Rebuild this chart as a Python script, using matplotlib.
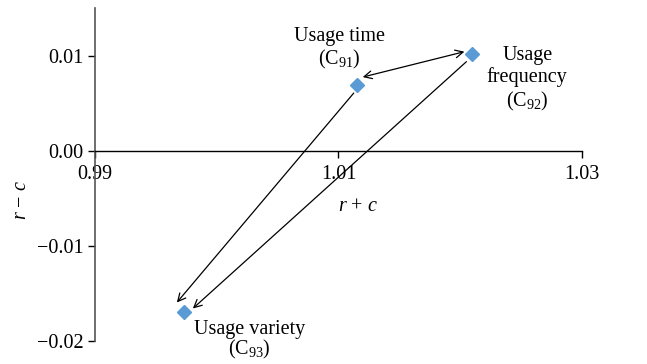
import matplotlib.pyplot as plt
import matplotlib.transforms as mtransforms
from matplotlib.ticker import FixedLocator, FuncFormatter

plt.rcParams['font.family'] = 'Liberation Serif'
plt.rcParams['mathtext.fontset'] = 'custom'
plt.rcParams['mathtext.rm'] = 'Liberation Serif'
plt.rcParams['mathtext.it'] = 'Liberation Serif:italic'

# factor positions: (r + c, r - c)
names = ['Usage time', 'Usage frequency', 'Usage variety']
codes = ['91', '92', '93']
r_plus_c = [1.0115, 1.0210, 0.9973]
r_minus_c = [0.0069, 0.0102, -0.0169]

xticks = [0.99, 1.01, 1.03]
yticks = [0.01, 0.00, -0.01, -0.02]

blue = '#5B9BD5'
fs = 14.5

fig = plt.figure(figsize=(6.47, 3.64), dpi=100)
ax = fig.add_axes([0.1468, 0.0632, 0.7527, 0.9148])

ax.plot(r_plus_c, r_minus_c, 'D', color=blue, markersize=7.5, zorder=3)

ax.set_xlim(0.99, 1.03)
ax.set_ylim(-0.02, 0.015)

ax.spines['top'].set_visible(False)
ax.spines['right'].set_visible(False)
ax.spines['bottom'].set_position(('data', 0))
ax.spines['left'].set_color('#555555')
ax.spines['left'].set_linewidth(1.2)
ax.spines['bottom'].set_linewidth(1.0)

ax.xaxis.set_major_locator(FixedLocator(xticks))
ax.yaxis.set_major_locator(FixedLocator(yticks))
ax.xaxis.set_major_formatter(FuncFormatter(lambda v, p: f'{v:.2f}'))
ax.yaxis.set_major_formatter(FuncFormatter(lambda v, p: f'{v:.2f}'.replace('-', '\u2212')))
ax.tick_params(axis='both', direction='out', length=5, width=1, labelsize=fs)
ax.tick_params(axis='x', pad=5)
ax.tick_params(axis='y', pad=3)

ax.text(1.0116, -0.0059, r'$r$ + $c$', fontsize=fs, ha='center', va='center')
fig.text(0.034, 0.45, r'$r$ $-$ $c$', fontsize=fs, rotation=90, ha='center', va='center')

# point labels
ax.text(1.0101, 0.0107, names[0] + '\n' + r'(C$_{%s}$)' % codes[0],
        fontsize=fs, ha='center', va='center', linespacing=1.1)
ax.text(1.0255, 0.0075, 'Usage\nfrequency\n' + r'(C$_{%s}$)' % codes[1],
        fontsize=fs, ha='center', va='center', linespacing=1.15)
ax.text(0.9981, -0.0188, names[2], fontsize=fs, ha='left', va='center')
ax.text(1.0027, -0.0209, r'(C$_{%s}$)' % codes[2], fontsize=fs, ha='center',
        va='center', clip_on=False)


def shifted(dx, dy):
    return mtransforms.offset_copy(ax.transData, fig=fig, x=dx, y=dy, units='dots')


def link(i, j, start, end, style):
    ax.annotate('', xy=(r_plus_c[j], r_minus_c[j]), xycoords=shifted(*end),
                xytext=(r_plus_c[i], r_minus_c[i]), textcoords=shifted(*start),
                arrowprops=dict(arrowstyle=style, color='black', lw=0.9,
                                shrinkA=0, shrinkB=0, mutation_scale=14))


link(0, 1, (6, 8), (-8, 2), '<->')
link(0, 2, (-3, -8), (-7, 9), '->')
link(1, 2, (-6, -8), (9, 3), '->')

fig.savefig('out.png', dpi=100)
